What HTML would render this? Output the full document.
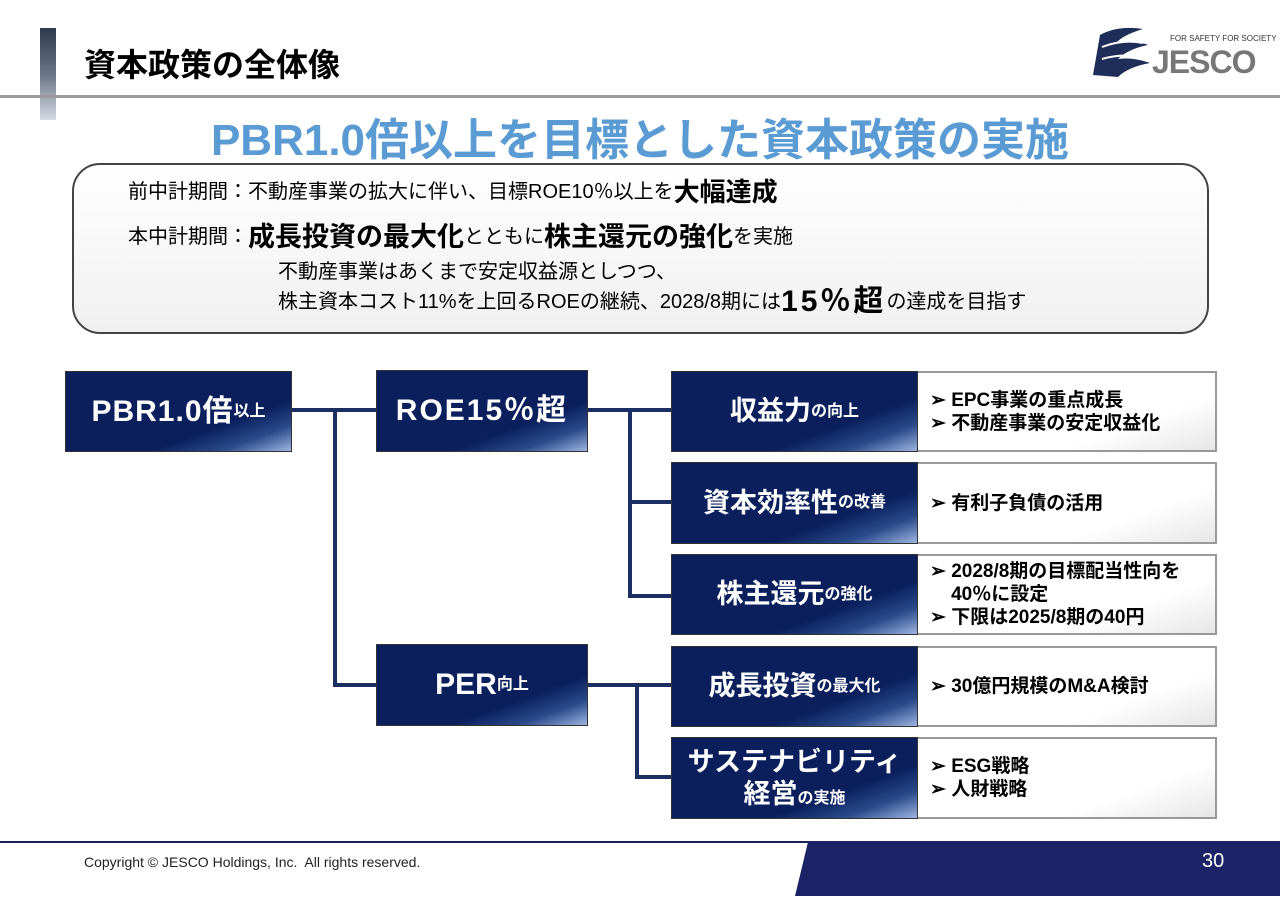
<!DOCTYPE html>
<html><head><meta charset="utf-8"><style>
*{margin:0;padding:0;box-sizing:border-box}
body{width:1280px;height:904px;background:#fff;position:relative;overflow:hidden;font-family:"Liberation Sans","Noto Sans CJK JP",sans-serif;color:#000}
.a{position:absolute}
.nb{position:absolute;background:linear-gradient(160deg,#0a1f5c 0%,#0a1f5c 68%,#2a4a8a 84%,#9db4e0 100%);border:1px solid #333;color:#fff;font-weight:bold;display:flex;align-items:center;justify-content:center;text-align:center;line-height:1.2}
.wb{position:absolute;background:linear-gradient(160deg,#fff 70%,#e6e6e6 100%);border:2px solid #999;border-left:none;font-weight:bold;font-size:19px;display:flex;flex-direction:column;justify-content:center;padding-left:12px;line-height:23px}
.ln{position:absolute;background:#1c2f62}
.s{font-size:16px;letter-spacing:0}
.t{position:absolute;white-space:nowrap;line-height:30px;height:30px;display:flex;align-items:center}
</style></head><body>
<div class="a" style="left:40px;top:28px;width:16px;height:92px;background:linear-gradient(#2f3a4c,#6a7488 50%,#d6dae2)"></div>
<div class="a" style="left:84px;top:40px;font-size:32px;font-weight:bold">資本政策の全体像</div>
<div class="a" style="left:0;top:95px;width:1280px;height:3px;background:#9a9a9a"></div>
<svg class="a" style="left:1088px;top:25px" width="80" height="56"><path d="M5 50 L12 10 Q30 0 55 4 Q35 10 28 18 Q45 14 60 20 Q40 24 30 34 Q45 32 62 38 Q40 42 30 52 Z" fill="#1f2e58"/><path d="M14 22 Q35 14 55 18 M14 34 Q35 28 58 32" stroke="#fff" stroke-width="2" fill="none"/></svg>
<div class="a" style="left:1170px;top:34px;font-size:8px;color:#333">FOR SAFETY FOR SOCIETY</div>
<div class="a" style="left:1152px;top:44px;font-size:32px;color:#777;font-weight:bold;letter-spacing:-1px">JESCO</div>
<div class="a" style="left:0;top:104px;width:1280px;text-align:center;font-size:44px;font-weight:bold;color:#5a9bd4">PBR1.0倍以上を目標とした資本政策の実施</div>
<div class="a" style="left:72px;top:163px;width:1137px;height:171px;border:2px solid #444;border-radius:28px;background:linear-gradient(#fff,#f0f0f0)"></div>
<div class="t" style="left:128px;top:177px;font-size:20px">前中計期間：不動産事業の拡大に伴い、目標ROE10％以上を<b style="font-size:26px">大幅達成</b></div>
<div class="t" style="left:128px;top:222px;font-size:20px">本中計期間：<b style="font-size:27px">成長投資の最大化</b>とともに<b style="font-size:27px">株主還元の強化</b>を実施</div>
<div class="t" style="left:278px;top:257px;font-size:20px">不動産事業はあくまで安定収益源としつつ、</div>
<div class="t" style="left:278px;top:287px;font-size:20px">株主資本コスト11%を上回るROEの継続、2028/8期には<b style="font-size:30px;letter-spacing:3px">15％超</b>の達成を目指す</div>

<div class="ln" style="left:292px;top:408px;width:84px;height:4px"></div>
<div class="ln" style="left:333px;top:408px;width:4px;height:279px"></div>
<div class="ln" style="left:333px;top:683px;width:43px;height:4px"></div>
<div class="ln" style="left:588px;top:408px;width:83px;height:4px"></div>
<div class="ln" style="left:628px;top:408px;width:4px;height:190px"></div>
<div class="ln" style="left:628px;top:500px;width:43px;height:4px"></div>
<div class="ln" style="left:628px;top:594px;width:43px;height:4px"></div>
<div class="ln" style="left:588px;top:683px;width:83px;height:4px"></div>
<div class="ln" style="left:635px;top:683px;width:4px;height:96px"></div>
<div class="ln" style="left:635px;top:775px;width:36px;height:4px"></div>

<div class="nb" style="left:65px;top:371px;width:227px;height:81px;font-size:30px;letter-spacing:1px">PBR1.0倍<span class="s">以上</span></div>
<div class="nb" style="left:376px;top:370px;width:212px;height:82px;font-size:30px;letter-spacing:2px">ROE15％超</div>
<div class="nb" style="left:376px;top:644px;width:212px;height:82px;font-size:30px">PER<span class="s">向上</span></div>

<div class="nb" style="left:671px;top:371px;width:247px;height:81px;font-size:27px">収益力<span class="s">の向上</span></div>
<div class="wb" style="left:918px;top:371px;width:299px;height:81px"><div>➢ EPC事業の重点成長</div><div>➢ 不動産事業の安定収益化</div></div>
<div class="nb" style="left:671px;top:462px;width:247px;height:82px;font-size:27px">資本効率性<span class="s">の改善</span></div>
<div class="wb" style="left:918px;top:462px;width:299px;height:82px"><div>➢ 有利子負債の活用</div></div>
<div class="nb" style="left:671px;top:554px;width:247px;height:81px;font-size:27px">株主還元<span class="s">の強化</span></div>
<div class="wb" style="left:918px;top:554px;width:299px;height:81px"><div>➢ 2028/8期の目標配当性向を</div><div>&nbsp;&nbsp;&nbsp;&nbsp;40％に設定</div><div>➢ 下限は2025/8期の40円</div></div>
<div class="nb" style="left:671px;top:646px;width:247px;height:81px;font-size:27px">成長投資<span class="s">の最大化</span></div>
<div class="wb" style="left:918px;top:646px;width:299px;height:81px"><div>➢ 30億円規模のM&amp;A検討</div></div>
<div class="nb" style="left:671px;top:737px;width:247px;height:82px;font-size:27px;flex-direction:column"><div>サステナビリティ</div><div>経営<span class="s">の実施</span></div></div>
<div class="wb" style="left:918px;top:737px;width:299px;height:82px"><div>➢ ESG戦略</div><div>➢ 人財戦略</div></div>

<div class="a" style="left:0;top:841px;width:1280px;height:2px;background:#1c2455"></div>
<svg class="a" style="left:790px;top:842px" width="490" height="54"><polygon points="18,0 490,0 490,54 5,54" fill="#1c2266"/></svg>
<div class="a" style="left:84px;top:854px;font-size:14px;color:#222">Copyright © JESCO Holdings, Inc.&nbsp; All rights reserved.</div>
<div class="a" style="left:1202px;top:850px;font-size:20px;color:#fff">30</div>
</body></html>
